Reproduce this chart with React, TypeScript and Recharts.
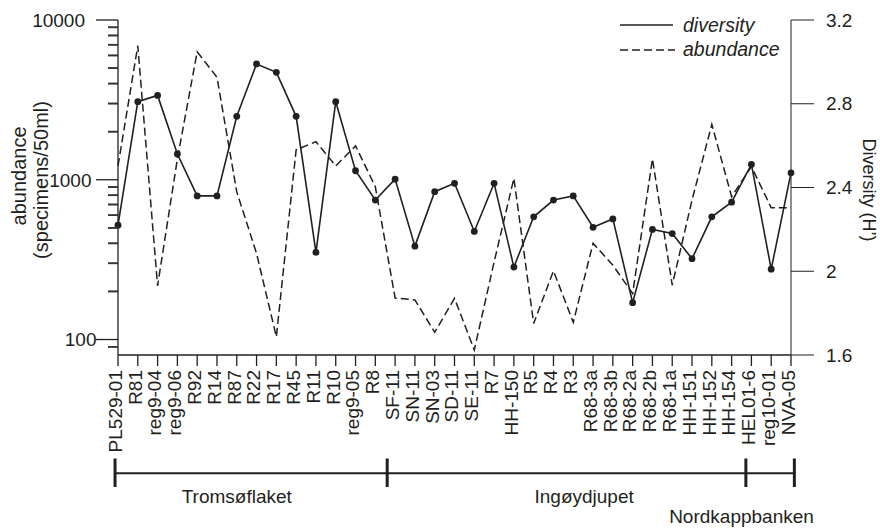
import React from 'react';
import { LineChart, Line, XAxis, YAxis, ReferenceLine } from 'recharts';

const categories = [
  'PL529-01', 'R81', 'reg9-04', 'reg9-06', 'R92', 'R14', 'R87', 'R22', 'R17', 'R45', 'R11', 'R10',
  'reg9-05', 'R8', 'SF-11', 'SN-11', 'SN-03', 'SD-11', 'SE-11', 'R7', 'HH-150', 'R5', 'R4', 'R3',
  'R68-3a', 'R68-3b', 'R68-2a', 'R68-2b', 'R68-1a', 'HH-151', 'HH-152', 'HH-154', 'HEL01-6', 'reg10-01', 'NVA-05',
];

const diversity = [
  2.22, 2.81, 2.84, 2.56, 2.36, 2.36, 2.74, 2.99, 2.95, 2.74, 2.09, 2.81,
  2.48, 2.34, 2.44, 2.12, 2.38, 2.42, 2.19, 2.42, 2.02, 2.26, 2.34, 2.36,
  2.21, 2.25, 1.85, 2.2, 2.18, 2.06, 2.26, 2.33, 2.51, 2.01, 2.47,
];

const abundance = [
  1220, 6900, 217, 1350, 6330, 4380, 840, 346, 104, 1540, 1730, 1220,
  1630, 904, 182, 177, 111, 181, 86, 305, 1020, 126, 269, 128,
  400, 292, 194, 1350, 219, 746, 2220, 783, 1210, 668, 668,
];

const leftMajorTicks = [100, 1000, 10000];
const leftMinorTicks = [90, 200, 300, 400, 500, 600, 700, 800, 900, 2000, 3000, 4000, 5000, 6000, 7000, 8000, 9000];
const rightTicks = [1.6, 2, 2.4, 2.8, 3.2];

const regions = [
  { name: 'Tromsøflaket', center: 6.0, row: 0 },
  { name: 'Ingøydjupet', center: 23.55, row: 0 },
  { name: 'Nordkappbanken', center: 31.5, row: 1 },
];
const regionBounds = [-0.15, 13.6, 31.72, 34.17];

const data = categories.map((name, i) => ({ name, diversity: diversity[i], abundance: abundance[i] }));

const W = 880;
const H = 531;
const LEFT = 118;
const RIGHT_W = 89;
const TOP = 20;
const XAXIS_H = 176;
const plotW = W - LEFT - RIGHT_W;
const step = plotW / (categories.length - 1);
const catX = (i: number) => LEFT + i * step;

const INK = '#231f20';
const FONT = '"Liberation Sans", Arial, Helvetica, sans-serif';

const labelGap: Record<number, number> = { 10000: 33, 1000: 26.5, 100: 21.5 };

const XTick = (props: any) => {
  const { x, y, payload } = props;
  return (
    <text
      x={x}
      y={y}
      transform={`rotate(-90 ${x} ${y})`}
      textAnchor="end"
      dy="0.2em"
      fontSize={19}
      fontFamily={FONT}
      fill={INK}
    >
      {payload.value}
    </text>
  );
};

const LeftTick = (props: any) => {
  const { x, y, payload } = props;
  const v = payload.value;
  const major = leftMajorTicks.includes(v);
  return (
    <g>
      <line x1={x - (major ? 22 : 10)} y1={y} x2={x} y2={y} stroke={major ? INK : '#333'} strokeWidth={major ? 1.3 : 1.6} />
      {major ? (
        <text x={x - labelGap[v]} y={y} dy="0.355em" textAnchor="end" fontSize={19} fontFamily={FONT} fill={INK}>
          {String(v)}
        </text>
      ) : null}
    </g>
  );
};

const MinorTickShape = (props: any) => {
  const { x1, y1 } = props;
  if (x1 == null || y1 == null || isNaN(x1) || isNaN(y1)) return null;
  return <line x1={x1 - 10} y1={y1} x2={x1} y2={y1} stroke="#333" strokeWidth={1.6} />;
};

export default function App() {
  const bracketY = 473.3;
  return (
    <div style={{ position: 'absolute', left: 0, top: 0, width: W, height: H }}>
      <LineChart width={W} height={H} data={data} margin={{ top: TOP, right: 0, bottom: 0, left: 0 }}>
        <XAxis
          dataKey="name"
          interval={0}
          height={XAXIS_H}
          tick={<XTick />}
          tickSize={11}
          tickMargin={4}
          stroke={INK}
          tickLine={{ stroke: INK, strokeWidth: 1.3 }}
          axisLine={{ stroke: INK, strokeWidth: 1.3 }}
        />
        <YAxis
          yAxisId="left"
          scale="log"
          domain={[80, 10000]}
          allowDataOverflow
          ticks={[...leftMajorTicks, ...leftMinorTicks].sort((a, b) => a - b)}
          interval={0}
          width={LEFT}
          tickSize={0}
          tickMargin={0}
          tickLine={false}
          tick={<LeftTick />}
          axisLine={{ stroke: INK, strokeWidth: 1.3 }}
        />
        <YAxis
          yAxisId="right"
          orientation="right"
          domain={[1.6, 3.2]}
          ticks={rightTicks}
          interval={0}
          width={RIGHT_W}
          tickSize={23}
          tickMargin={12}
          tick={{ fontSize: 19, fontFamily: FONT, fill: INK }}
          stroke={INK}
        />
        {leftMinorTicks.map((v) => (
          <ReferenceLine
            key={`minor-${v}`}
            yAxisId="left"
            y={v}
            ifOverflow="visible"
            stroke="#333"
            shape={<MinorTickShape />}
          />
        ))}
        <Line
          yAxisId="left"
          type="linear"
          dataKey="abundance"
          stroke={INK}
          strokeWidth={1.5}
          strokeDasharray="8 4"
          dot={false}
          isAnimationActive={false}
        />
        <Line
          yAxisId="right"
          type="linear"
          dataKey="diversity"
          stroke={INK}
          strokeWidth={1.6}
          dot={{ r: 3.4, fill: INK, stroke: INK, strokeWidth: 0 }}
          isAnimationActive={false}
        />
      </LineChart>
      <svg
        width={W}
        height={H}
        style={{ position: 'absolute', left: 0, top: 0, pointerEvents: 'none' }}
        fontFamily={FONT}
      >
        <line x1={620} y1={25} x2={673} y2={25} stroke={INK} strokeWidth={1.5} />
        <text x={683} y={31.5} fontSize={19.5} fontStyle="italic" fill={INK}>diversity</text>
        <line x1={620} y1={50} x2={675} y2={50} stroke={INK} strokeWidth={1.5} strokeDasharray="8 4" />
        <text x={683} y={55.5} fontSize={19.5} fontStyle="italic" fill={INK}>abundance</text>

        <text x={19} y={176} transform="rotate(-90 19 176)" textAnchor="middle" dy="0.355em" fontSize={20} fill={INK}>
          abundance
        </text>
        <text x={41} y={180} transform="rotate(-90 41 180)" textAnchor="middle" dy="0.355em" fontSize={20} fill={INK}>
          (specimens/50ml)
        </text>
        <text x={869} y={190} transform="rotate(90 869 190)" textAnchor="middle" dy="0.355em" fontSize={18} fill={INK}>
          Diversity (H’)
        </text>

        <line
          x1={catX(regionBounds[0])}
          y1={bracketY}
          x2={catX(regionBounds[regionBounds.length - 1])}
          y2={bracketY}
          stroke={INK}
          strokeWidth={2}
        />
        {regionBounds.map((b, i) => (
          <line key={i} x1={catX(b)} y1={458.5} x2={catX(b)} y2={487} stroke={INK} strokeWidth={3} />
        ))}
        {regions.map((r) => (
          <text key={r.name} x={catX(r.center)} y={r.row === 0 ? 502.7 : 523.4} textAnchor="middle" fontSize={19} fill={INK}>
            {r.name}
          </text>
        ))}
      </svg>
    </div>
  );
}
